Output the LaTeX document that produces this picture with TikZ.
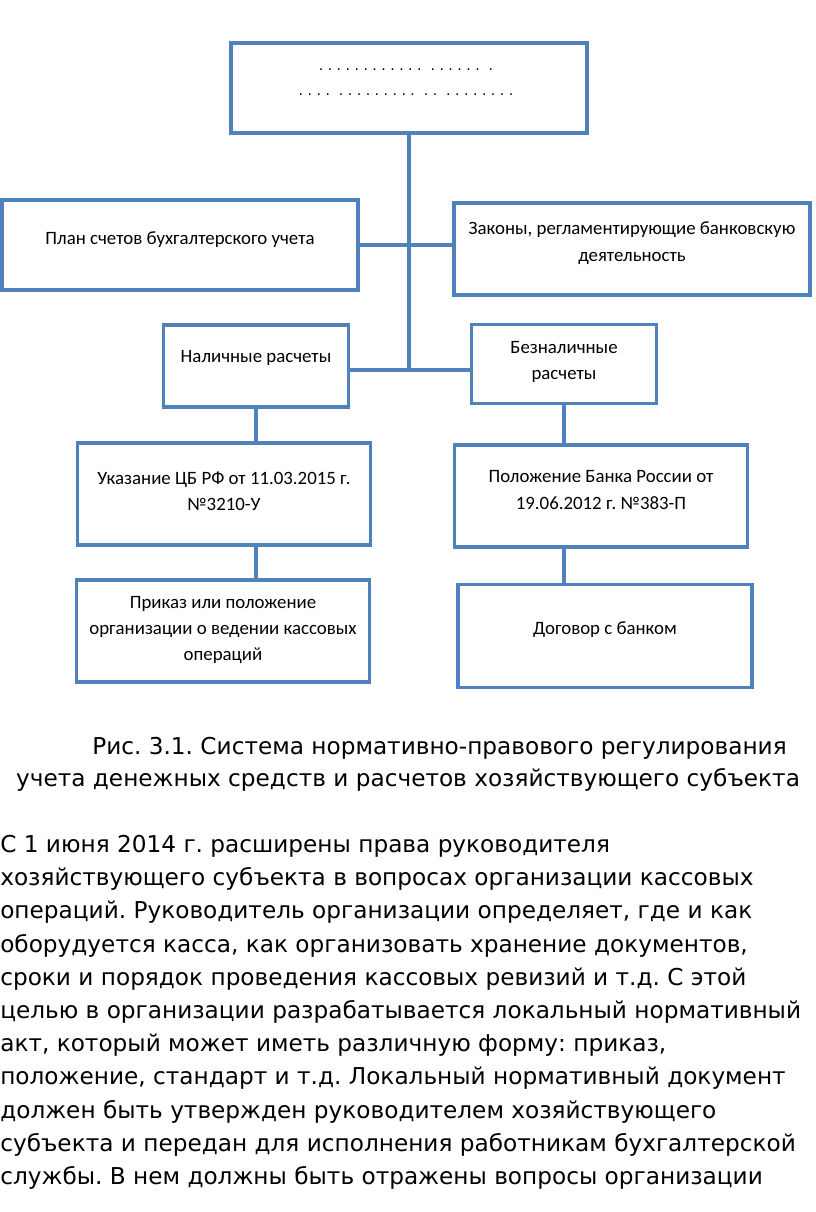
\documentclass[tikz,border=0pt]{standalone}
\usepackage{fontspec}
\setmainfont{DejaVu Sans}
\newfontfamily\boxfont{Carlito}
\usetikzlibrary{positioning,calc}
\definecolor{lineblue}{HTML}{4F81BD}

\begin{document}
\frenchspacing
\begin{tikzpicture}[
  x=0.025cm, y=-0.025cm,
  box/.style={draw=lineblue, line width=2.6pt, align=center, inner sep=2pt,
              font=\boxfont\fontsize{13.4}{18.6}\selectfont},
  bigbox/.style={box, minimum width=8.9cm, minimum height=2.25cm},
  midbox/.style={box, minimum width=4.62cm, minimum height=2cm},
  docbox/.style={box, minimum width=7.32cm, minimum height=2.55cm},
  link/.style={draw=lineblue, line width=2.6pt},
  dots/.style={font=\fontsize{10}{12}\selectfont, inner sep=0pt},
  body/.style={font=\fontsize{16.5}{23.6}\selectfont, inner sep=0pt},
]
\useasboundingbox (0,0) rectangle (816,1212);

% --- Top box (unreadable title) ---
\node[bigbox] (top) at (409,88) {};
\node[dots] (dots1) at (406,70) {. . . . . . . . . . . .\ \ . . . . . .\ \ .};
\node[dots] (dots2) at (406,95) {. . . .\ \ . . . . . . . . .\ \ . .\ \ . . . . . . . .};

% --- Second row ---
\node[bigbox] (plan) at (180,245) {План счетов бухгалтерского учета\\[-9pt]};
\node[bigbox, minimum height=2.3cm] (laws) at (632,249) {Законы, регламентирующие банковскую\\деятельность\\[-8pt]};

% --- Cash / non-cash ---
\node[midbox, minimum height=2.05cm] (cash) at (256,366) {Наличные расчеты\\[-5pt]};
\node[midbox, minimum height=1.97cm] (noncash) at (564,364) {Безналичные\\расчеты\\[-13pt]};

% --- Documents ---
\node[docbox] (ukaz) at (224,494) {Указание ЦБ РФ от 11.03.2015 г.\\№3210-У\\[-14pt]};
\node[docbox] (polozh) at (601,496) {Положение Банка России от\\19.06.2012 г. №383-П\\[-10pt]};
\node[docbox] (prikaz) at (223,631) {Приказ или положение\\организации о ведении кассовых\\операций\\[-15pt]};
\node[docbox, minimum width=7.35cm, minimum height=2.57cm] (dogovor) at (605,636) {Договор с банком\\[-7pt]};

% --- Connectors ---
\coordinate (trunk) at (top.south |- 0,370);
\draw[link] (top.south) -- (trunk);
\draw[link] (plan.east) -- (plan.east -| laws.west);
\draw[link] (cash.east |- trunk) -- (noncash.west |- trunk);
\draw[link] (cash.south) -- (cash.south |- ukaz.north);
\draw[link] (noncash.south) -- (noncash.south |- polozh.north);
\draw[link] (cash.south |- ukaz.south) -- (cash.south |- prikaz.north);
\draw[link] (noncash.south |- polozh.south) -- (noncash.south |- dogovor.north);

% --- Caption ---
\node[body, anchor=east] (cap1) at (787,748) {Рис. 3.1. Система нормативно-правового регулирования};
\node[body] (cap2) at (408,780) {учета денежных средств и расчетов хозяйствующего субъекта};

% --- Body text ---
\node[body, anchor=north west, align=left] (para) at (0,835) {%
С 1 июня 2014 г. расширены права руководителя\\
хозяйствующего субъекта в вопросах организации кассовых\\
операций. Руководитель организации определяет, где и как\\
оборудуется касса, как организовать хранение документов,\\
сроки и порядок проведения кассовых ревизий и т.д. С этой\\
целью в организации разрабатывается локальный нормативный\\
акт, который может иметь различную форму: приказ,\\
положение, стандарт и т.д. Локальный нормативный документ\\
должен быть утвержден руководителем хозяйствующего\\
субъекта и передан для исполнения работникам бухгалтерской\\
службы. В нем должны быть отражены вопросы организации};

\end{tikzpicture}
\end{document}
